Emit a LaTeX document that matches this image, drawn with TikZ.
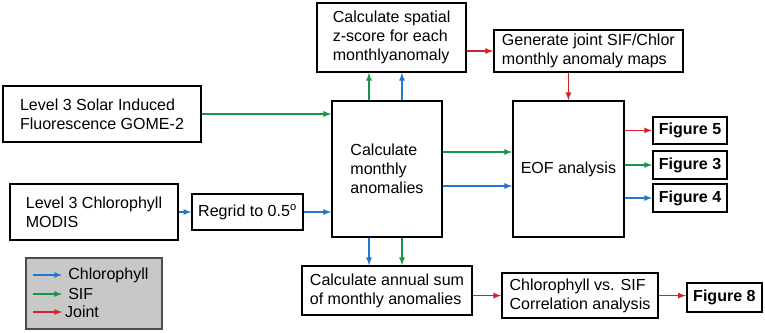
\documentclass[tikz,border=0pt]{standalone}
\usepackage{fontspec}
\setmainfont{Liberation Sans}
\usetikzlibrary{arrows,positioning,calc}

\definecolor{chlblue}{RGB}{30,120,205}
\definecolor{sifgreen}{RGB}{20,150,70}
\definecolor{jointred}{RGB}{210,35,40}
\definecolor{legendgray}{RGB}{200,200,200}

\begin{document}
\begin{tikzpicture}[
  box/.style={draw, line width=1.1pt, align=left, inner sep=0pt, font=\fontsize{11.4}{13.5}\selectfont},
  figbox/.style={draw, line width=1.4pt, inner sep=0pt, minimum width=1.85cm, minimum height=0.68cm, font=\fontsize{11.4}{13.5}\selectfont\bfseries},
  chlarrow/.style={-latex, line width=0.9pt, chlblue},
  sifarrow/.style={-latex, line width=0.9pt, sifgreen},
  jointarrow/.style={-latex, line width=0.9pt, jointred}
]
  \useasboundingbox (0,0) rectangle (19.125,8.3);

  % Input data
  \node[box, minimum width=4.95cm, minimum height=1.4cm] (sifin) at (2.55,5.45) {Level 3 Solar Induced\\Fluorescence GOME-2};
  \node[box, minimum width=4.2cm, minimum height=1.4cm] (chlin) at (2.35,3.0) {Level 3 Chlorophyll\\MODIS};
  \node[box, minimum width=2.775cm, minimum height=0.9cm] (regrid) at (6.19,3.0) {Regrid to 0.5\textsuperscript{o}};

  % Processing steps
  \node[box, minimum width=2.75cm, minimum height=3.4cm] (anom) at (9.675,4.075) {Calculate\\monthly\\anomalies};
  \node[box, minimum width=3.725cm, minimum height=1.725cm] (zscore) at (9.79,7.36) {Calculate spatial\\z-score for each\\monthlyanomaly};
  \node[box, minimum width=4.725cm, minimum height=1.05cm] (joint) at (14.71,7.025) {Generate joint SIF/Chlor\\monthly anomaly maps};
  \node[box, minimum width=2.775cm, minimum height=3.4cm] (eof) at (14.21,4.075) {EOF analysis};
  \node[box, minimum width=4.25cm, minimum height=1.225cm] (annual) at (9.675,1.04) {Calculate annual sum\\of monthly anomalies};
  \node[box, minimum width=3.9cm, minimum height=1.125cm] (corr) at (14.5,0.91) {Chlorophyll vs. SIF\\Correlation analysis};

  % Figures
  \node[figbox] (fig5) at (17.25,5.04) {Figure 5};
  \node[figbox] (fig3) at (17.25,4.175) {Figure 3};
  \node[figbox] (fig4) at (17.25,3.35) {Figure 4};
  \node[figbox, minimum width=1.875cm, minimum height=0.725cm] (fig8) at (18.11,0.86) {Figure 8};

  % Arrows
  \draw[sifarrow] (sifin.east) -- (sifin.east -| anom.west);
  \draw[chlarrow] (chlin.east) -- (regrid.west);
  \draw[chlarrow] (regrid.east) -- (regrid.east -| anom.west);
  \draw[sifarrow] ([xshift=-0.45cm]anom.north) -- ([xshift=-0.45cm]anom.north |- zscore.south);
  \draw[chlarrow] ([xshift=0.375cm]anom.north) -- ([xshift=0.375cm]anom.north |- zscore.south);
  \draw[jointarrow] (joint.west -| zscore.east) -- (joint.west);
  \draw[jointarrow] (eof.north |- joint.south) -- (eof.north);
  \draw[sifarrow] ([yshift=0.425cm]anom.east) -- ([yshift=0.425cm]anom.east -| eof.west);
  \draw[chlarrow] ([yshift=-0.425cm]anom.east) -- ([yshift=-0.425cm]anom.east -| eof.west);
  \draw[jointarrow] (fig5.west -| eof.east) -- (fig5.west);
  \draw[sifarrow] (fig3.west -| eof.east) -- (fig3.west);
  \draw[chlarrow] (fig4.west -| eof.east) -- (fig4.west);
  \draw[chlarrow] ([xshift=-0.45cm]anom.south) -- ([xshift=-0.45cm]anom.south |- annual.north);
  \draw[sifarrow] ([xshift=0.375cm]anom.south) -- ([xshift=0.375cm]anom.south |- annual.north);
  \draw[jointarrow] (corr.west -| annual.east) -- (corr.west);
  \draw[jointarrow] (corr.east) -- (corr.east -| fig8.west);

  % Legend
  \node[draw=black!70, line width=1.1pt, fill=legendgray, minimum width=3.4cm, minimum height=1.775cm] (legend) at (2.35,0.9625) {};
  \node[anchor=west, inner sep=0pt, font=\fontsize{11.4}{13.5}\selectfont] (lgchl) at (1.7,1.425) {Chlorophyll};
  \node[anchor=west, inner sep=0pt, font=\fontsize{11.4}{13.5}\selectfont] (lgsif) at (1.7,0.95) {SIF};
  \node[anchor=west, inner sep=0pt, font=\fontsize{11.4}{13.5}\selectfont] (lgjoint) at (1.62,0.5) {Joint};
  \coordinate (lgchlstart) at (0.825,1.425);
  \coordinate (lgsifstart) at (0.825,0.95);
  \coordinate (lgjointstart) at (0.825,0.5);
  \draw[chlarrow, shorten >=0.15cm] (lgchlstart) -- (lgchl.west);
  \draw[sifarrow, shorten >=0.15cm] (lgsifstart) -- (lgsif.west);
  \draw[jointarrow, shorten >=0.07cm] (lgjointstart) -- (lgjoint.west);
\end{tikzpicture}
\end{document}
